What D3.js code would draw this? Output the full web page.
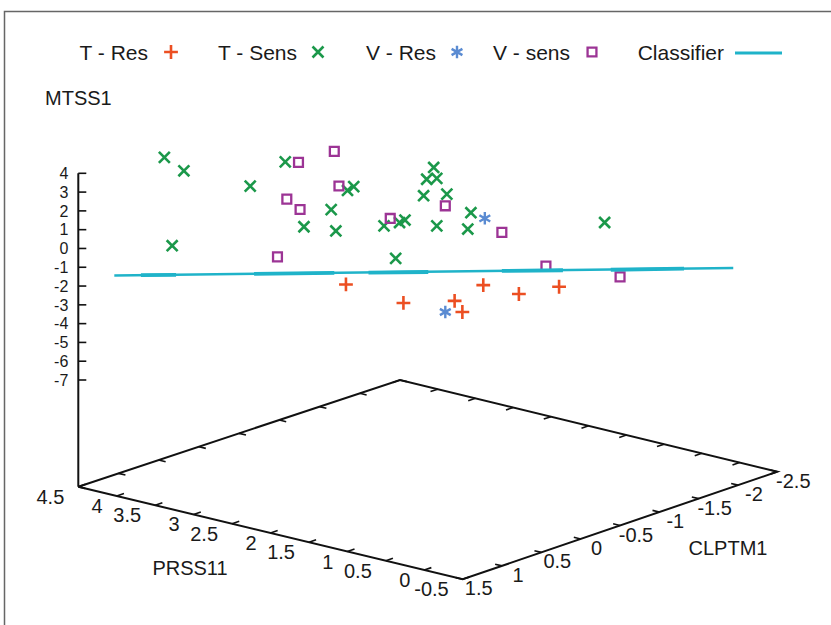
<!DOCTYPE html>
<html>
<head>
<meta charset="utf-8">
<script src="https://cdn.jsdelivr.net/npm/d3@7"></script>
<style>
  body { margin: 0; background: #fff; }
  text { font-family: "Liberation Sans", Arial, sans-serif; fill: #1a1a1a; }
</style>
</head>
<body>
<div id="chart"></div>
<script>
// every point is [PRSS11, CLPTM1, MTSS1]
const tRes = [
  [2.47, 0.10, -1.91], [2.03, -0.20, -2.89], [1.64, -0.47, -2.78], [1.58, -0.51, -3.37],
  [1.42, -0.62, -1.94], [1.15, -0.81, -2.42], [0.84, -1.02, -2.03]
];
const tSens = [
  [3.85, 1.05, 4.85], [3.70, 0.95, 4.14], [3.20, 0.60, 3.32], [2.93, 0.42, 4.62],
  [2.79, 0.32, 1.16], [3.79, 1.01, 0.15], [2.46, 0.09, 3.09], [2.41, 0.06, 3.30],
  [2.58, 0.18, 2.08], [2.55, 0.15, 0.93], [2.18, -0.10, 1.21], [2.06, -0.18, 1.39],
  [2.02, -0.21, 1.52], [2.09, -0.16, -0.52], [1.80, -0.36, 4.32], [1.85, -0.32, 3.70],
  [1.78, -0.38, 3.73], [1.70, -0.43, 2.90], [1.88, -0.31, 2.81], [1.78, -0.38, 1.20],
  [1.52, -0.56, 1.90], [1.54, -0.54, 1.04], [0.49, -1.26, 1.39]
];
const vRes = [[1.71, -0.42, -3.37], [1.41, -0.63, 1.61]];
const vSens = [
  [2.56, 0.16, 5.17], [2.83, 0.35, 4.59], [2.92, 0.41, 2.63], [2.82, 0.34, 2.08],
  [2.99, 0.46, -0.44], [2.52, 0.14, 3.34], [2.13, -0.13, 1.61], [1.71, -0.42, 2.28],
  [1.28, -0.72, 0.86], [0.94, -0.95, -0.93], [0.37, -1.34, -1.50]
];
// classifier plane seen edge on: one long line plus overlapping pieces
const classifierMain = [[4.23, 1.31, -1.44], [-0.50, -1.94, -1.04]];
const classifierPieces = [
  [[4.03, 1.17, -1.42], [3.76, 0.99, -1.40]],
  [[3.17, 0.58, -1.35], [2.56, 0.16, -1.30]],
  [[2.30, -0.02, -1.28], [1.84, -0.33, -1.24]],
  [[1.28, -0.72, -1.19], [0.81, -1.04, -1.15]],
  [[0.44, -1.29, -1.12], [-0.12, -1.68, -1.07]]
];

const prssTicks = [4.5, 4, 3.5, 3, 2.5, 2, 1.5, 1, 0.5, 0, -0.5];
const clptmTicks = [1.5, 1, 0.5, 0, -0.5, -1, -1.5, -2, -2.5];
const mtssTicks = [4, 3, 2, 1, 0, -1, -2, -3, -4, -5, -6, -7];

const width = 831, height = 625;
const svg = d3.select("#chart").append("svg")
  .attr("width", width).attr("height", height);

// outer frame (only top and left visible)
svg.append("path")
  .attr("d", "M" + width + ",11.5H4.5V" + height)
  .attr("fill", "none").attr("stroke", "#666").attr("stroke-width", 1.5);

// screen corners of the base plane
const corner = {
  front: [462.7, 579.3],  // PRSS11 -0.5, CLPTM1 1.5
  left:  [78.3, 486.7],   // PRSS11 4.5,  CLPTM1 1.5
  right: [777.3, 471.7],  // PRSS11 -0.5, CLPTM1 -2.5
  back:  [400, 380]       // PRSS11 4.5,  CLPTM1 -2.5
};
const u = d3.scaleLinear().domain([-0.5, 4.5]).range([0, 1]);
const v = d3.scaleLinear().domain([1.5, -2.5]).range([0, 1]);
const zy = d3.scaleLinear().domain([-7, 4]).range([380, 173.3]);
const zBase = zy.invert(corner.left[1]);

function proj(p, c, z) {
  const a = u(p), b = v(c);
  const k = i => (1 - a) * (1 - b) * corner.front[i] + a * (1 - b) * corner.left[i]
               + (1 - a) * b * corner.right[i] + a * b * corner.back[i];
  const dz = z === undefined ? 0 : zy(z) - zy(zBase);
  return [k(0), k(1) + dz];
}

const axisColor = "#111";
const g = svg.append("g");

// base plane
g.append("path")
  .attr("d", d3.line()([corner.left, corner.front, corner.right, corner.back, corner.left]))
  .attr("fill", "none").attr("stroke", axisColor).attr("stroke-width", 2)
  .attr("stroke-linejoin", "miter");

// vertical MTSS1 axis
g.append("path")
  .attr("d", d3.line()([proj(4.5, 1.5, zBase), proj(4.5, 1.5, 4)]))
  .attr("stroke", axisColor).attr("stroke-width", 2);

mtssTicks.forEach(t => {
  const [x, y] = proj(4.5, 1.5, t);
  g.append("line").attr("x1", x).attr("x2", x + 8).attr("y1", y).attr("y2", y)
    .attr("stroke", axisColor).attr("stroke-width", 1.6);
  g.append("text").attr("x", x - 10).attr("y", y).attr("dy", "0.36em")
    .attr("text-anchor", "end").attr("font-size", 16).text(t);
});

// PRSS11 ticks (front edge + mirror on back edge)
const tk = 0.09;
prssTicks.forEach(t => {
  g.append("path").attr("d", d3.line()([proj(t, 1.5), proj(t, 1.5 - tk)]))
    .attr("stroke", axisColor).attr("stroke-width", 1.6);
  g.append("path").attr("d", d3.line()([proj(t, -2.5), proj(t, -2.5 + tk)]))
    .attr("stroke", axisColor).attr("stroke-width", 1.6);
  const [x, y] = proj(t, 1.5);
  g.append("text").attr("x", x - 14).attr("y", y + 17)
    .attr("text-anchor", "end").attr("font-size", 20).text(t);
});

// CLPTM1 ticks (front edge + mirror on back edge)
clptmTicks.forEach(t => {
  g.append("path").attr("d", d3.line()([proj(-0.5, t), proj(-0.5 + tk, t)]))
    .attr("stroke", axisColor).attr("stroke-width", 1.6);
  g.append("path").attr("d", d3.line()([proj(4.5, t), proj(4.5 - tk, t)]))
    .attr("stroke", axisColor).attr("stroke-width", 1.6);
  const [x, y] = proj(-0.5, t);
  g.append("text").attr("x", x + 16).attr("y", y + 16)
    .attr("text-anchor", "middle").attr("font-size", 20).text(t);
});

// axis titles
g.append("text").attr("x", 190).attr("y", 575).attr("text-anchor", "middle")
  .attr("font-size", 20).text("PRSS11");
g.append("text").attr("x", 728).attr("y", 555).attr("text-anchor", "middle")
  .attr("font-size", 20).text("CLPTM1");
g.append("text").attr("x", 45).attr("y", 105).attr("font-size", 20).text("MTSS1");

// series
const series = [
  {name: "T - Res", data: tRes, type: d3.symbolPlus, size: 64, color: "#ec4f22", sw: 2.6, lx: 148, sx: 171},
  {name: "T - Sens", data: tSens, type: d3.symbolTimes, size: 80, color: "#1b984a", sw: 2.6, lx: 297, sx: 318},
  {name: "V - Res", data: vRes, type: d3.symbolAsterisk, size: 110, color: "#5a8bd2", sw: 2.4, lx: 436, sx: 457},
  {name: "V - sens", data: vSens, type: d3.symbolSquare2, size: 100, color: "#9c3495", sw: 2.3, lx: 570, sx: 592}
];

series.forEach(s => {
  const sym = d3.symbol().type(s.type).size(s.size);
  g.append("g").selectAll("path")
    .data(s.data).enter().append("path")
      .attr("transform", d => "translate(" + proj(d[0], d[1], d[2]) + ")")
      .attr("d", sym)
      .attr("fill", "none").attr("stroke", s.color).attr("stroke-width", s.sw);
});

// classifier
const clsColor = "#1fb3c9";
g.append("path")
  .attr("d", d3.line()(classifierMain.map(d => proj(d[0], d[1], d[2]))))
  .attr("stroke", clsColor).attr("stroke-width", 2.6).attr("fill", "none");
g.append("g").selectAll("path")
  .data(classifierPieces).enter().append("path")
    .attr("d", seg => d3.line()(seg.map(d => proj(d[0], d[1], d[2]))))
    .attr("stroke", clsColor).attr("stroke-width", 3.8).attr("fill", "none");

// legend
const legY = 52;
series.forEach(s => {
  svg.append("text").attr("x", s.lx).attr("y", legY).attr("dy", "0.36em")
    .attr("text-anchor", "end").attr("font-size", 21).text(s.name);
  svg.append("path")
    .attr("transform", "translate(" + s.sx + "," + legY + ")")
    .attr("d", d3.symbol().type(s.type).size(s.size)())
    .attr("fill", "none").attr("stroke", s.color).attr("stroke-width", s.sw);
});
svg.append("text").attr("x", 724).attr("y", legY).attr("dy", "0.36em")
  .attr("text-anchor", "end").attr("font-size", 21).text("Classifier");
svg.append("line").attr("x1", 735).attr("x2", 782).attr("y1", legY + 1).attr("y2", legY + 1)
  .attr("stroke", clsColor).attr("stroke-width", 2.8);
</script>
</body>
</html>
